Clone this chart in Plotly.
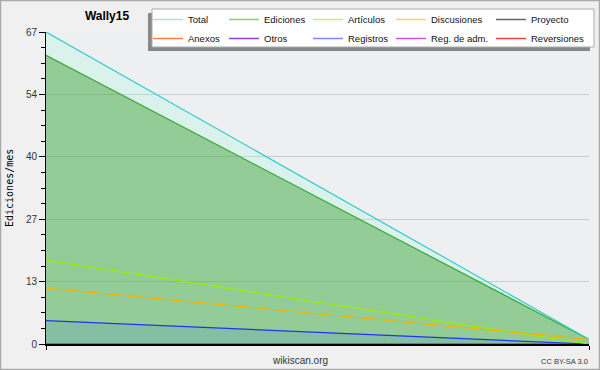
import plotly.graph_objects as go

# ---- data ----
x_months = [0, 1]
total = [67, 1]
ediciones = [62, 1]
articulos = [18, 0]
discusiones = [12, 1]
registros = [5, 0]
proyecto = [0, 0]
anexos = [0, 0]
otros = [0, 0]
reg_adm = [0, 0]
reversiones = [0, 0]

y_tickvals = [0, 13.4, 26.8, 40.2, 53.6, 67]
y_ticktext = ["0", "13", "27", "40", "54", "67"]
x_tickvals = [0, 1]

legend_names = [["Total", "Anexos"], ["Ediciones", "Otros"], ["Artículos", "Registros"],
                ["Discusiones", "Reg. de adm."], ["Proyecto", "Reversiones"]]
legend_colors = [["#a6e6e0", "#ff8040"], ["#88cc88", "#9040d0"], ["#c8ee70", "#7f88ff"],
                 ["#ffcc66", "#d050e0"], ["#666666", "#ee4040"]]

# ---- geometry helpers (pixels -> paper) ----
L, R, T, B = 46, 11, 32, 26
W, H = 600, 370
PW, PH = W - L - R, H - T - B
def px(xp):
    return (xp - L) / PW
def py(yp):
    return (H - B - yp) / PH

fig = go.Figure()

# zero-valued series (hidden at axis)
for name, vals, col in [("Proyecto", proyecto, "#555555"), ("Anexos", anexos, "#ff7733"),
                        ("Otros", otros, "#8833cc"), ("Reg. de adm.", reg_adm, "#cc44cc"),
                        ("Reversiones", reversiones, "#ee3333")]:
    fig.add_trace(go.Scatter(x=x_months, y=vals, mode="lines", line=dict(color=col, width=1),
                             showlegend=False, hoverinfo="skip"))

fig.add_trace(go.Scatter(x=x_months, y=ediciones, mode="lines", fill="tozeroy",
                         fillcolor="rgba(55,170,60,0.5)", line=dict(color="#33aa33", width=1.2),
                         showlegend=False))
fig.add_trace(go.Scatter(x=x_months, y=total, mode="lines", fill="tonexty",
                         fillcolor="rgba(150,255,215,0.22)", line=dict(color="#33cccc", width=1.2),
                         showlegend=False))
fig.add_trace(go.Scatter(x=x_months, y=registros, mode="lines", fill="tozeroy",
                         fillcolor="rgba(60,130,230,0.17)", line=dict(color="#2233ee", width=1.2),
                         showlegend=False))
fig.add_trace(go.Scatter(x=x_months, y=articulos, mode="lines",
                         line=dict(color="#99ee00", width=1.2), showlegend=False))
fig.add_trace(go.Scatter(x=x_months, y=discusiones, mode="lines",
                         line=dict(color="#f0b400", width=1.2), showlegend=False))

# legend entries (5 columns x 2 rows)
legend_font = dict(family="Liberation Sans, Arial, sans-serif", size=9.5, color="#111111")
col_left = [148, 224, 308, 391, 491]
layout_legends = {}
for i, (names, cols) in enumerate(zip(legend_names, legend_colors)):
    key = "legend" if i == 0 else f"legend{i+1}"
    for nm, c in zip(names, cols):
        fig.add_trace(go.Scatter(x=[None], y=[None], mode="lines", name=nm,
                                 line=dict(color=c, width=1.5), legend=key))
    layout_legends[key] = dict(x=px(col_left[i]), y=py(5), xanchor="left", yanchor="top",
                               orientation="v", bgcolor="rgba(0,0,0,0)", borderwidth=0,
                               font=legend_font, traceorder="normal")

axis_font = dict(family="Liberation Sans, Arial, sans-serif", size=10, color="#333333")

fig.update_layout(
    width=W, height=H,
    margin=dict(l=L, r=R, t=T, b=B, autoexpand=False),
    paper_bgcolor="#f0f0f0",
    plot_bgcolor="#eeeff1",
    title=dict(text="<b>Wally15</b>", x=107 / W, xanchor="center", y=1 - 16 / H, yanchor="middle",
               font=dict(family="Liberation Sans, Arial, sans-serif", size=12, color="#000000")),
    xaxis=dict(range=[0, 1], tickvals=x_tickvals, ticktext=["", ""], ticks="outside", ticklen=4,
               tickcolor="#000000", showgrid=False, zeroline=False, showline=True,
               linecolor="#000000", linewidth=2, fixedrange=True),
    yaxis=dict(range=[0, 67], tickvals=y_tickvals, ticktext=y_ticktext, ticks="outside",
               ticklen=6, tickcolor="#000000", showgrid=True, gridcolor="#cccccc", gridwidth=1,
               zeroline=False, showline=True, linecolor="#000000", linewidth=1,
               tickfont=axis_font,
               minor=dict(tickmode="linear", tick0=0, dtick=3.35, ticks="outside", ticklen=4,
                          tickcolor="#000000", showgrid=False)),
    showlegend=True,
    **layout_legends,
)

fig.add_annotation(text="Ediciones/mes", xref="paper", yref="paper", x=px(9), y=0.5,
                   textangle=-90, showarrow=False, xanchor="center", yanchor="middle",
                   font=dict(family="DejaVu Sans Mono, monospace", size=10, color="#000000"))
fig.add_annotation(text="wikiscan.org", xref="paper", yref="paper", x=px(300), y=py(360),
                   showarrow=False, xanchor="center", yanchor="middle",
                   font=dict(family="Liberation Sans, Arial, sans-serif", size=10, color="#333333"))
fig.add_annotation(text="CC BY-SA 3.0", xref="paper", yref="paper", x=px(590), y=py(361),
                   showarrow=False, xanchor="right", yanchor="middle",
                   font=dict(family="Liberation Sans, Arial, sans-serif", size=7.5, color="#333333"))

# figure border
fig.add_shape(type="rect", xref="paper", yref="paper", x0=px(0.5), x1=px(599.5), y0=py(369.5),
              y1=py(0.5), line=dict(color="#aaaaaa", width=1.5), fillcolor="rgba(0,0,0,0)",
              layer="above")
# legend box with shadow
fig.add_shape(type="rect", xref="paper", yref="paper", x0=px(148), x1=px(590), y0=py(51),
              y1=py(13), line=dict(width=0), fillcolor="#888888", layer="above")
fig.add_shape(type="rect", xref="paper", yref="paper", x0=px(152), x1=px(594), y0=py(47),
              y1=py(9), line=dict(color="#aaaaaa", width=1), fillcolor="#ffffff", layer="above")

fig.write_html("out.html", config={"displayModeBar": False},
               post_script="document.body.style.margin='0';")
